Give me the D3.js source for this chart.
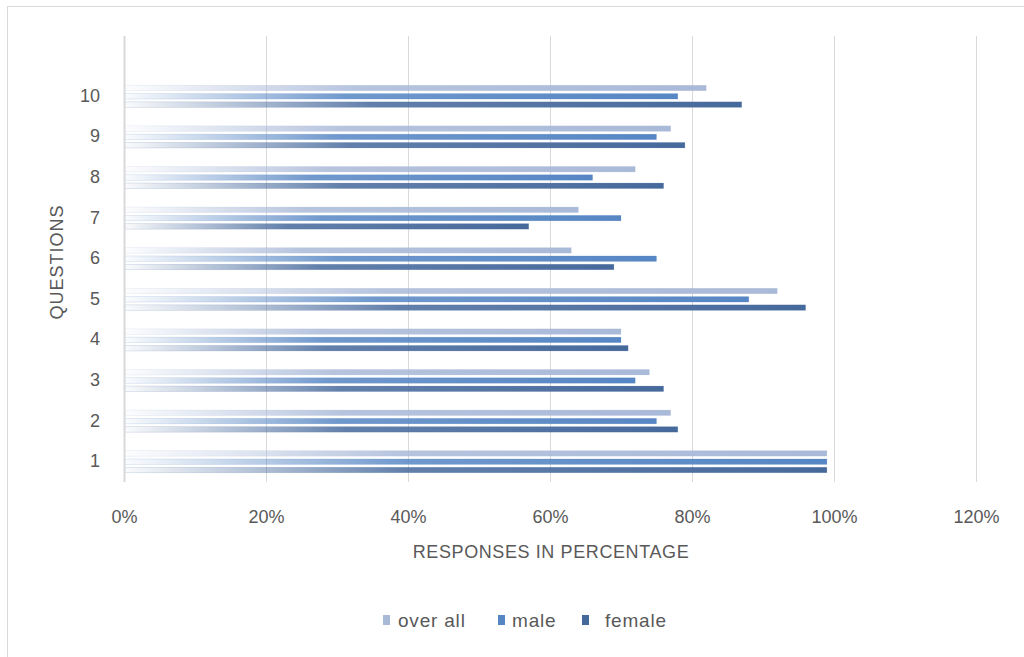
<!DOCTYPE html>
<html><head><meta charset="utf-8">
<script src="https://cdn.jsdelivr.net/npm/d3@7"></script>
<style>body{margin:0;background:#fff}svg{display:block}</style>
</head><body>
<svg id="c" width="1024" height="657"></svg>
<script>
const questions = ["1","2","3","4","5","6","7","8","9","10"];
const overAll = [0.99,0.77,0.74,0.70,0.92,0.63,0.64,0.72,0.77,0.82];
const male    = [0.99,0.75,0.72,0.70,0.88,0.75,0.70,0.66,0.75,0.78];
const female  = [0.99,0.78,0.76,0.71,0.96,0.69,0.57,0.76,0.79,0.87];
const seriesNames = ["over all","male","female"];
const seriesColors = ["#a9b9d8","#5686c4","#46699c"];
const xTicks = [0,0.2,0.4,0.6,0.8,1.0,1.2];

(function(){
const svg = d3.select("#c");
const font = "'Liberation Sans', Arial, sans-serif";
const textColor = "#595959";

// chart border
svg.append("rect").attr("x",7.5).attr("y",6.5).attr("width",1030).attr("height",670)
  .attr("fill","none").attr("stroke","#d9d9d9").attr("stroke-width",1);

const pLeft = 124, pRight = 976, pTop = 36, pBottom = 482;
const x = d3.scaleLinear().domain([0,1.2]).range([pLeft,pRight]);
const bandH = 40.6;
const y = d3.scaleBand().domain(questions).range([pBottom, pBottom - bandH*10]).paddingInner(0).paddingOuter(0);

// gridlines
svg.append("g").selectAll("line").data(xTicks.slice(1)).join("line")
  .attr("x1",d=>Math.round(x(d))+0.5).attr("x2",d=>Math.round(x(d))+0.5)
  .attr("y1",pTop).attr("y2",pBottom)
  .attr("stroke","#d9d9d9").attr("stroke-width",1);

// gradients
const defs = svg.append("defs");
seriesColors.forEach((c,i)=>{
  const g = defs.append("linearGradient").attr("id","g"+i).attr("x1","0").attr("x2","1").attr("y1","0").attr("y2","0");
  g.append("stop").attr("offset","0").attr("stop-color",c).attr("stop-opacity",0.03);
  g.append("stop").attr("offset","0.4").attr("stop-color",c).attr("stop-opacity",0.85);
  g.append("stop").attr("offset","1").attr("stop-color",c).attr("stop-opacity",1);
});

const series = [overAll, male, female];
const barH = 5.5, step = 8.3;
series.forEach((vals,si)=>{
  svg.append("g").selectAll("rect").data(questions).join("rect")
    .attr("x", x(0)+1)
    .attr("y", (d)=> y(d) + y.bandwidth()/2 + (si-1)*step - barH/2)
    .attr("width", (d,i)=> x(vals[i]) - x(0) - 1)
    .attr("height", barH)
    .attr("fill","url(#g"+si+")")
    .attr("stroke", seriesColors[si]).attr("stroke-opacity",0.25).attr("stroke-width",0.6);
});

// y axis line
svg.append("line").attr("x1",pLeft+0.5).attr("x2",pLeft+0.5).attr("y1",pTop).attr("y2",pBottom)
  .attr("stroke","#d9d9d9").attr("stroke-width",2);

// x axis labels
const xAxis = d3.axisBottom(x).tickValues(xTicks).tickFormat(d3.format(".0%")).tickSize(0).tickPadding(0);
const xg = svg.append("g").attr("transform",`translate(0,${pBottom+41})`).call(xAxis);
xg.select(".domain").remove();
xg.selectAll("text").attr("fill",textColor).attr("font-family",font).attr("font-size",18).attr("dy","0");

// y axis labels
const yAxis = d3.axisLeft(y).tickSize(0).tickPadding(0);
const yg = svg.append("g").attr("transform",`translate(${pLeft-24},-1)`).call(yAxis);
yg.select(".domain").remove();
yg.selectAll("text").attr("fill",textColor).attr("font-family",font).attr("font-size",18).attr("dy","0.36em");

// axis titles
svg.append("text").attr("x",551).attr("y",558).attr("text-anchor","middle")
  .attr("fill",textColor).attr("font-family",font).attr("font-size",18).attr("letter-spacing",0.6)
  .text("RESPONSES IN PERCENTAGE");
svg.append("text").attr("transform","translate(63,262) rotate(-90)").attr("text-anchor","middle")
  .attr("fill",textColor).attr("font-family",font).attr("font-size",18).attr("letter-spacing",1)
  .text("QUESTIONS");

// legend
const legX = [383, 498, 582];
const legTX = [398, 512, 605];
const lg = svg.append("g");
seriesNames.forEach((n,i)=>{
  lg.append("rect").attr("x",legX[i]).attr("y",615).attr("width",7).attr("height",10).attr("fill",seriesColors[i]);
  lg.append("text").attr("x",legTX[i]).attr("y",627).attr("fill",textColor).attr("font-family",font)
    .attr("font-size",19).attr("letter-spacing",0.8).text(n);
});
})();
</script>
</body></html>
